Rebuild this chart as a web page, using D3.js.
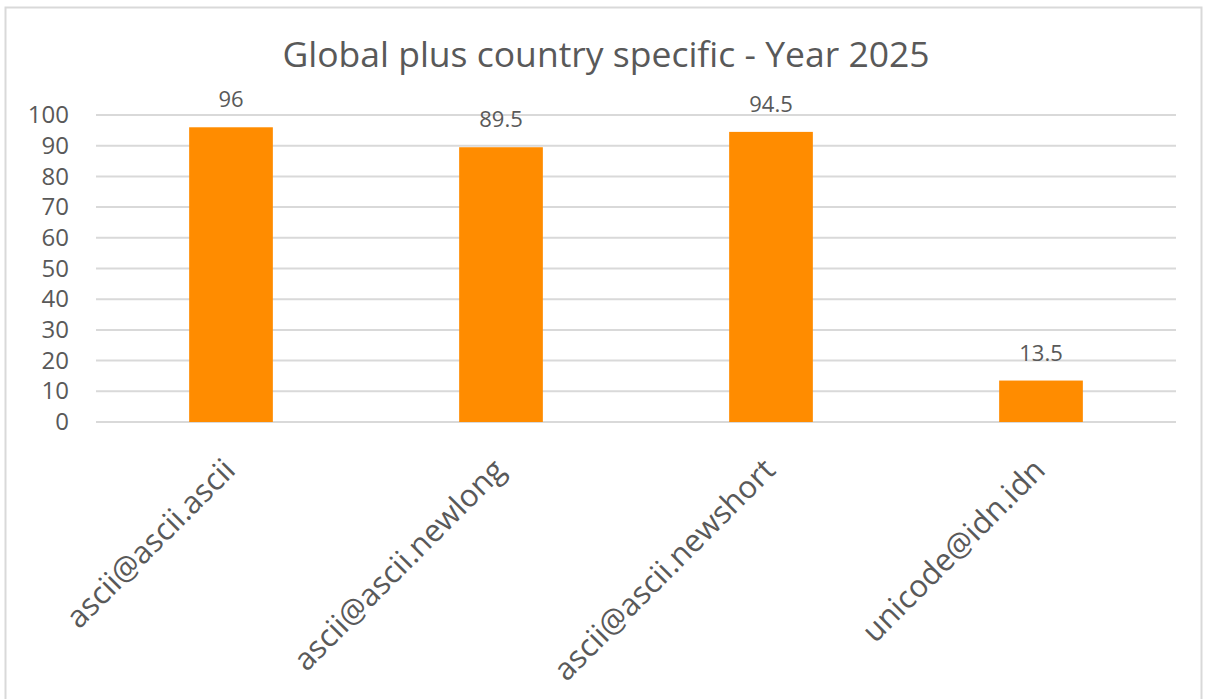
<!DOCTYPE html>
<html>
<head>
<meta charset="utf-8">
<script src="https://cdn.jsdelivr.net/npm/d3@7"></script>
<style>
  html, body { margin: 0; padding: 0; background: #fff; }
  svg { display: block; }
  text { font-family: "Open Sans", "Noto Sans", sans-serif; fill: #595959; }
</style>
</head>
<body>
<svg id="chart" width="1205" height="699"></svg>
<script>
// Chart data
const categories = ["ascii@ascii.ascii", "ascii@ascii.newlong", "ascii@ascii.newshort", "unicode@idn.idn"];
const values = [96, 89.5, 94.5, 13.5];
const yTicks = [0, 10, 20, 30, 40, 50, 60, 70, 80, 90, 100];
const title = "Global plus country specific - Year 2025";

const svg = d3.select("#chart");
const plot = { left: 96, right: 1176, top: 115, bottom: 422 };

// Outer frame
svg.append("rect")
  .attr("x", 5.5).attr("y", 7.5)
  .attr("width", 1196).attr("height", 700)
  .attr("fill", "#fff").attr("stroke", "#d9d9d9").attr("stroke-width", 2);

const x = d3.scaleBand()
  .domain(categories)
  .range([plot.left, plot.right])
  .paddingInner(0.69).paddingOuter(0.345);

const y = d3.scaleLinear()
  .domain([0, 100])
  .range([plot.bottom, plot.top]);

// Horizontal gridlines
svg.append("g")
  .selectAll("line")
  .data(yTicks)
  .join("line")
  .attr("x1", plot.left).attr("x2", plot.right)
  .attr("y1", d => y(d)).attr("y2", d => y(d))
  .attr("stroke", "#d9d9d9").attr("stroke-width", 2);

// Y axis labels
const yAxis = d3.axisLeft(y).tickValues(yTicks).tickSize(0).tickPadding(0);
const gy = svg.append("g")
  .attr("transform", `translate(${plot.left - 27},0)`)
  .call(yAxis);
gy.select(".domain").remove();
gy.selectAll("text")
  .attr("font-size", 24)
  .attr("fill", "#595959")
  .style("font-family", '"Open Sans", sans-serif');

// Bars
svg.append("g")
  .selectAll("rect")
  .data(values)
  .join("rect")
  .attr("x", (d, i) => x(categories[i]))
  .attr("width", x.bandwidth())
  .attr("y", d => y(d))
  .attr("height", d => y(0) - y(d))
  .attr("fill", "#ff8c00");

// Value labels
svg.append("g")
  .selectAll("text")
  .data(values)
  .join("text")
  .attr("x", (d, i) => x(categories[i]) + x.bandwidth() / 2)
  .attr("y", d => y(d) - 20)
  .attr("text-anchor", "middle")
  .attr("font-size", 22)
  .text(d => d);

// Category labels, rotated
const xAxis = d3.axisBottom(x).tickSize(0).tickPadding(0);
const gx = svg.append("g")
  .attr("transform", `translate(0,${plot.bottom})`)
  .call(xAxis);
gx.select(".domain").remove();
gx.selectAll("text")
  .attr("font-size", 31)
  .attr("fill", "#595959")
  .style("font-family", '"Open Sans", sans-serif')
  .attr("text-anchor", "end")
  .attr("dy", 0)
  .attr("y", 0)
  .attr("transform", "translate(6,50) rotate(-45)");

// Title
svg.append("text")
  .attr("x", 606)
  .attr("y", 67)
  .attr("text-anchor", "middle")
  .attr("font-size", 35.5)
  .text(title);
</script>
</body>
</html>
